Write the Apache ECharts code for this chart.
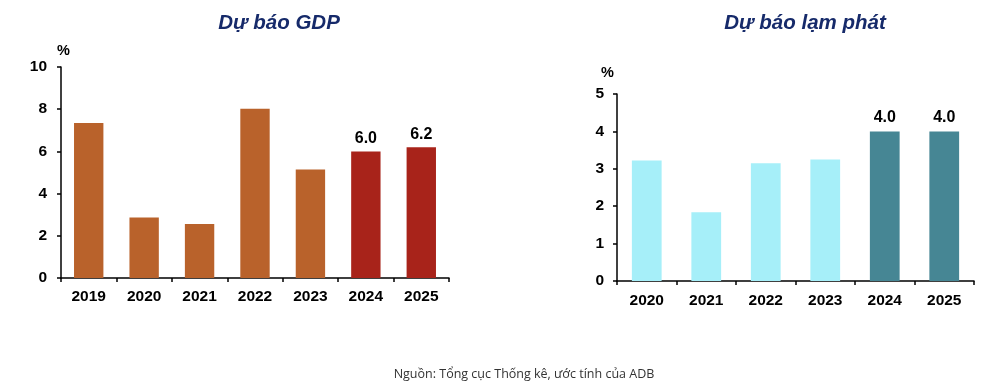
<!DOCTYPE html>
<html><head><meta charset="utf-8">
<script src="https://cdn.jsdelivr.net/npm/echarts@6/dist/echarts.min.js"></script>
<style>html,body{margin:0;padding:0;background:#fff}#c{width:1000px;height:384px}</style>
</head><body><div id="c"></div>
<script>
const gdpYears = ['2019','2020','2021','2022','2023','2024','2025'];
const gdpValues = [7.35, 2.87, 2.56, 8.02, 5.14, 6.0, 6.2];
const gdpForecast = [false, false, false, false, false, true, true];
const infYears = ['2020','2021','2022','2023','2024','2025'];
const infValues = [3.22, 1.84, 3.15, 3.25, 4.0, 4.0];
const infForecast = [false, false, false, false, true, true];
const gdpTicks = [0, 2, 4, 6, 8, 10];
const infTicks = [0, 1, 2, 3, 4, 5];

const chart = echarts.init(document.getElementById('c'));
const F = 'Liberation Sans, Arial, sans-serif';
const axisTxt = {color:'#000', fontFamily:F, fontWeight:'bold', fontSize:15.5};
const lineStyle = {color:'#000', width:1.5};

function items(vals, fc, c1, c2) {
  return vals.map((v,i)=>({
    value:v,
    itemStyle:{color: fc[i] ? c2 : c1},
    label:{show: fc[i]}
  }));
}

chart.setOption({
  animation:false,
  title:[
    {text:'Dự báo GDP', left:274, top:8, textAlign:'center',
     textStyle:{fontFamily:F, fontStyle:'italic', fontWeight:'bold', fontSize:20.5, color:'#162a6a'}},
    {text:'Dự báo lạm phát', left:800, top:8, textAlign:'center',
     textStyle:{fontFamily:F, fontStyle:'italic', fontWeight:'bold', fontSize:20.5, color:'#162a6a'}},
    {text:'Nguồn: Tổng cục Thống kê, ước tính của ADB', left:519, top:363, textAlign:'center',
     textStyle:{fontFamily:'Open Sans, Noto Sans, sans-serif', fontWeight:'normal', fontSize:12.5, color:'#333'}}
  ],
  graphic:[
    {type:'text', left:57, top:43, style:{text:'%', font:'bold 14.5px '+F, fill:'#000'}},
    {type:'text', left:601, top:65, style:{text:'%', font:'bold 14.5px '+F, fill:'#000'}}
  ],
  grid:[
    {left:61, right:551, top:67, bottom:106},
    {left:617, right:26, top:94, bottom:103}
  ],
  xAxis:[
    {type:'category', gridIndex:0, data:gdpYears,
     axisLine:{lineStyle}, axisTick:{show:true, length:4, lineStyle:{color:'#000', width:1.5}},
     axisLabel:Object.assign({margin:11}, axisTxt)},
    {type:'category', gridIndex:1, data:infYears,
     axisLine:{lineStyle}, axisTick:{show:true, length:4, lineStyle:{color:'#000', width:1.5}},
     axisLabel:Object.assign({margin:12}, axisTxt)}
  ],
  yAxis:[
    {type:'value', gridIndex:0, min:gdpTicks[0], max:gdpTicks[gdpTicks.length-1], interval:gdpTicks[1]-gdpTicks[0],
     splitLine:{show:false}, axisLine:{show:true, lineStyle}, axisTick:{show:true, length:4, lineStyle:{color:'#000', width:1.5}},
     axisLabel:Object.assign({margin:14}, axisTxt)},
    {type:'value', gridIndex:1, min:infTicks[0], max:infTicks[infTicks.length-1], interval:infTicks[1]-infTicks[0],
     splitLine:{show:false}, axisLine:{show:true, lineStyle}, axisTick:{show:true, length:4, lineStyle:{color:'#000', width:1.5}},
     axisLabel:Object.assign({margin:13}, axisTxt)}
  ],
  series:[
    {type:'bar', xAxisIndex:0, yAxisIndex:0, barWidth:'53%',
     data:items(gdpValues, gdpForecast, '#b9622b', '#a8231a'),
     label:{position:'top', distance:5, formatter:p=>p.value.toFixed(1), color:'#000', fontFamily:F, fontWeight:'bold', fontSize:16}},
    {type:'bar', xAxisIndex:1, yAxisIndex:1, barWidth:'50%',
     data:items(infValues, infForecast, '#a6eff9', '#468694'),
     label:{position:'top', distance:6, formatter:p=>p.value.toFixed(1), color:'#000', fontFamily:F, fontWeight:'bold', fontSize:16}}
  ]
});
</script></body></html>
